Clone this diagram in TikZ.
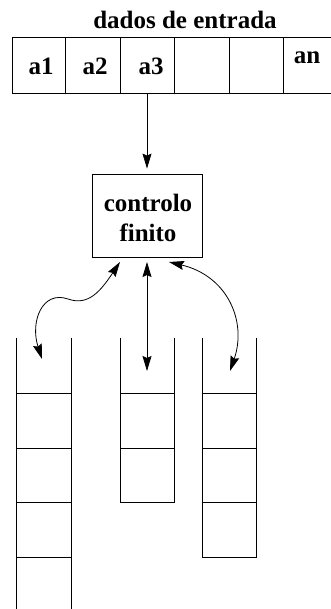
\documentclass[tikz,border=0pt]{standalone}
\usepackage{fontspec}
\setmainfont{Liberation Serif}
\usetikzlibrary{arrows.meta}
\begin{document}
\begin{tikzpicture}[x=1pt,y=-1pt,
  line width=0.8pt,
  cell/.style={draw, minimum height=56pt, inner sep=0pt},
  lbl/.style={font=\fontsize{25}{28}\selectfont\bfseries, inner sep=0pt},
  arr/.style={-{Stealth[length=15pt,width=9pt,inset=2pt]}},
  darr/.style={{Stealth[length=15pt,width=9pt,inset=2pt]}-{Stealth[length=15pt,width=9pt,inset=2pt]}}]
\useasboundingbox (0,0) rectangle (330,609);
% title
\node[lbl] (title) at (185,20) {dados de entrada};
% tape
\node[cell, minimum width=53pt] (c1) at (38.5,65) {};
\node[cell, minimum width=55pt] (c2) at (92.5,65) {};
\node[cell, minimum width=54pt] (c3) at (147,65) {};
\node[cell, minimum width=55pt] (c4) at (201.5,65) {};
\node[cell, minimum width=54pt] (c5) at (256,65) {};
\draw (283,37) -- (331,37) (283,93) -- (331,93);
\node[lbl] (t1) at (41,66) {a1};
\node[lbl] (t2) at (95,66) {a2};
\node[lbl] (t3) at (151,66) {a3};
\node[lbl] (tn) at (307,58) {an};
% finite control
\node[draw, minimum width=110pt, minimum height=83pt, inner sep=0pt] (ctrl) at (147,215.5) {};
\node[lbl] (ct1) at (148,203) {controlo};
\node[lbl] (ct2) at (148,233) {finito};
\draw[arr, shorten >=5pt] (c3.south) -- (ctrl.north);
% stacks
% stack 1 (open top and bottom)
\coordinate (s1a) at (16,338); \coordinate (s1b) at (71,338);
\draw (s1a) -- (16,609) (s1b) -- (71,609);
\foreach \yy in {393,448,502,557} \draw (16,\yy) -- (71,\yy);
% stack 2
\draw (120,338) -- (120,502) -- (174,502) -- (174,338);
\foreach \yy in {393,448} \draw (120,\yy) -- (174,\yy);
% stack 3
\draw (202,338) -- (202,557) -- (256,557) -- (256,338);
\foreach \yy in {393,448,502} \draw (202,\yy) -- (256,\yy);
% arrow targets
\coordinate (p1) at (42,359);
\coordinate (p2) at (147,371);
\coordinate (p3) at (230,371);
\coordinate (q1) at (120,262);
\coordinate (q2) at (147,262);
\coordinate (q3) at (169,262);
\draw[darr] (q1) .. controls (100,292) and (88,306) .. (68,299)
                  .. controls (42,290) and (30,322) .. (p1);
\draw[darr] (q2) -- (p2);
\draw[darr] (q3) .. controls (228,276) and (247,322) .. (p3);
\end{tikzpicture}
\end{document}
